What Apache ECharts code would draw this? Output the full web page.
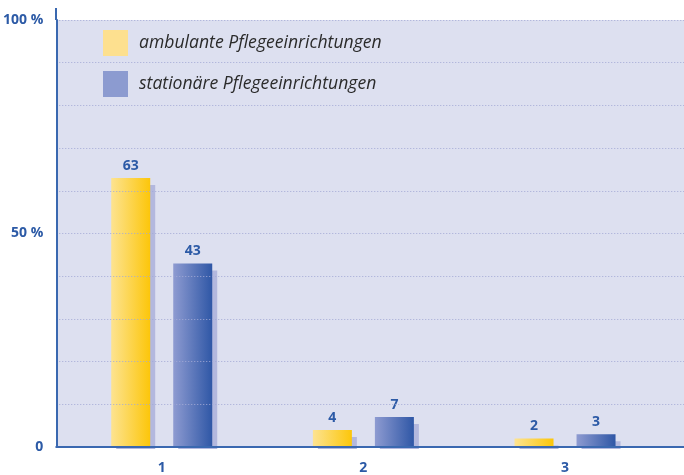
<!DOCTYPE html>
<html>
<head>
<meta charset="utf-8">
<script src="https://cdn.jsdelivr.net/npm/echarts@6/dist/echarts.min.js"></script>
<style>
  html, body { margin: 0; padding: 0; background: #fff; }
  #chart { width: 684px; height: 475px; }
</style>
</head>
<body>
<div id="chart"></div>
<script>
var categories = ['1', '2', '3']
var ambulant = [63, 4, 2]
var stationaer = [43, 7, 3]
var seriesNames = ['ambulante Pflegeeinrichtungen', 'stationäre Pflegeeinrichtungen']
var yTickLabels = { 0: '0', 50: '50 %', 100: '100 %' }

var blue = '#2c5aa6'

function toPoints(values) {
  return values.map(function (v, i) { return [i, v] })
}

var chart = echarts.init(document.getElementById('chart'))
chart.setOption({
  backgroundColor: '#ffffff',
  animation: false,
  textStyle: { fontFamily: 'Open Sans' },
  grid: {
    left: 56,
    right: 0,
    top: 20,
    bottom: 26,
    show: true,
    backgroundColor: '#dde0f0',
    borderWidth: 0
  },
  graphic: [
    // top part of the y axis line sticking out above 100 %
    { type: 'line', z: 20, shape: { x1: 56, y1: 8, x2: 56, y2: 20 }, style: { stroke: '#3a68b0', lineWidth: 2 } },
    // hide the bar shadows under the x axis
    { type: 'rect', z: 5, shape: { x: 0, y: 449, width: 684, height: 26 }, style: { fill: '#ffffff' } }
  ],
  legend: {
    orient: 'vertical',
    left: 98,
    top: 25,
    icon: 'rect',
    itemWidth: 25,
    itemHeight: 26,
    itemGap: 15,
    textStyle: {
      fontStyle: 'italic',
      fontSize: 17.6,
      color: '#2b2b2b',
      padding: [0, 0, 0, 6]
    },
    data: [
      { name: seriesNames[0], itemStyle: { color: '#fde08f' } },
      { name: seriesNames[1], itemStyle: { color: '#8c9bd0' } }
    ]
  },
  xAxis: {
    type: 'value',
    min: -0.523,
    max: 2.59,
    z: 10,
    axisLine: { onZero: false, lineStyle: { color: '#3a68b0', width: 2 } },
    axisTick: { show: false },
    splitLine: { show: false },
    axisLabel: {
      customValues: [0, 1, 2],
      formatter: function (v) { return categories[Math.round(v)] },
      color: blue,
      fontWeight: 'bold',
      fontSize: 14,
      margin: 14
    }
  },
  yAxis: {
    type: 'value',
    min: 0,
    max: 100,
    interval: 10,
    z: 10,
    axisLine: { show: true, onZero: false, lineStyle: { color: '#3a68b0', width: 2 } },
    axisTick: { show: false },
    splitLine: {
      lineStyle: { color: '#a3aad6', type: [1, 2], width: 1 }
    },
    axisLabel: {
      formatter: function (v) { return yTickLabels[v] || '' },
      color: blue,
      fontWeight: 'bold',
      fontSize: 14,
      margin: 13
    }
  },
  series: [{
    name: seriesNames[0],
    type: 'bar',
    barWidth: 39,
    barGap: '59%',
    data: toPoints(ambulant),
    itemStyle: {
      color: new echarts.graphic.LinearGradient(0, 0, 1, 0, [
        { offset: 0, color: '#fde391' },
        { offset: 1, color: '#fcc60a' }
      ]),
      shadowColor: '#b3b8de',
      shadowOffsetX: 5,
      shadowOffsetY: 7,
      shadowBlur: 0
    },
    label: {
      show: true,
      position: 'top',
      distance: 5,
      color: blue,
      fontWeight: 'bold',
      fontSize: 14,
      formatter: function (p) { return p.value[1] }
    }
  }, {
    name: seriesNames[1],
    type: 'bar',
    barWidth: 39,
    barGap: '59%',
    data: toPoints(stationaer),
    itemStyle: {
      color: new echarts.graphic.LinearGradient(0, 0, 1, 0, [
        { offset: 0, color: '#8e9bd1' },
        { offset: 1, color: '#2f57a6' }
      ]),
      shadowColor: '#b3b8de',
      shadowOffsetX: 5,
      shadowOffsetY: 7,
      shadowBlur: 0
    },
    label: {
      show: true,
      position: 'top',
      distance: 5,
      color: blue,
      fontWeight: 'bold',
      fontSize: 14,
      formatter: function (p) { return p.value[1] }
    }
  }]
})
</script>
</body>
</html>
